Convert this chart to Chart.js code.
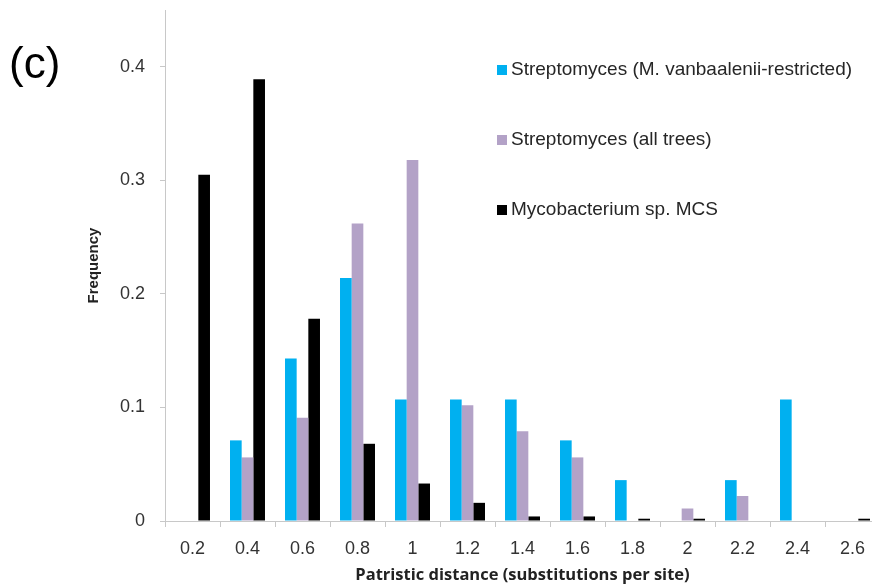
<!DOCTYPE html>
<html>
<head>
<meta charset="utf-8">
<script src="https://cdn.jsdelivr.net/npm/chart.js@4/dist/chart.umd.min.js"></script>
<style>
  html, body { margin: 0; padding: 0; background: #fff; overflow: hidden; }
  #wrap { position: relative; width: 900px; height: 585px; }
</style>
</head>
<body>
<div id="wrap"><canvas id="c" width="900" height="585"></canvas></div>
<script>
// Patristic distance bins (substitutions per site)
const distanceBins = ['0.2', '0.4', '0.6', '0.8', '1', '1.2', '1.4', '1.6', '1.8', '2', '2.2', '2.4', '2.6'];

// Frequency per bin for each group
const streptoRestricted = [0, 0.071, 0.143, 0.214, 0.107, 0.107, 0.107, 0.071, 0.036, 0, 0.036, 0.107, 0];
const streptoAllTrees   = [0, 0.056, 0.091, 0.262, 0.318, 0.102, 0.079, 0.056, 0, 0.011, 0.022, 0, 0];
const mycoMCS           = [0.305, 0.389, 0.178, 0.068, 0.033, 0.016, 0.004, 0.004, 0.002, 0.002, 0, 0, 0.002];

const seriesNames = [
  'Streptomyces (M. vanbaalenii-restricted)',
  'Streptomyces (all trees)',
  'Mycobacterium sp. MCS'
];
const seriesColors = ['#00B0F0', '#B3A2C7', '#000000'];

const yTicks = [0, 0.1, 0.2, 0.3, 0.4];

const panelLabel = '(c)';

// Legend stacked down the upper right of the plot, with wide row spacing
const sideLegend = {
  id: 'sideLegend',
  afterDraw(chart) {
    const ctx = chart.ctx;
    ctx.save();
    ctx.font = '19px "Liberation Sans", Arial, sans-serif';
    ctx.textBaseline = 'middle';
    ctx.textAlign = 'left';
    chart.data.datasets.forEach((ds, i) => {
      const y = 70 + i * 70;
      ctx.fillStyle = ds.backgroundColor;
      ctx.fillRect(497, y - 5, 10, 10);
      ctx.fillStyle = '#262626';
      ctx.fillText(ds.label, 511, y);
    });
    // panel letter
    ctx.font = '44px "Liberation Sans", Arial, sans-serif';
    ctx.textBaseline = 'alphabetic';
    ctx.fillStyle = '#000';
    ctx.fillText(panelLabel, 9, 78);
    ctx.restore();
  }
};

new Chart(document.getElementById('c'), {
  type: 'bar',
  data: {
    labels: distanceBins,
    datasets: [
      { label: seriesNames[0], data: streptoRestricted, backgroundColor: seriesColors[0] },
      { label: seriesNames[1], data: streptoAllTrees, backgroundColor: seriesColors[1] },
      { label: seriesNames[2], data: mycoMCS, backgroundColor: seriesColors[2] }
    ]
  },
  options: {
    responsive: false,
    animation: false,
    devicePixelRatio: 1,
    layout: { padding: { top: 10, right: 20, left: 0, bottom: 0 } },
    datasets: { bar: { categoryPercentage: 0.636, barPercentage: 1.0, borderWidth: 0 } },
    plugins: {
      legend: { display: false },
      tooltip: { enabled: false }
    },
    scales: {
      x: {
        offset: true,
        grid: { offset: true, drawOnChartArea: false, drawTicks: true, tickLength: 6, color: '#c8c8c8' },
        border: { display: true, color: '#c8c8c8', width: 1 },
        ticks: {
          color: '#333',
          padding: 11,
          font: { family: '"Liberation Sans", Arial, sans-serif', size: 18 },
          maxRotation: 0, autoSkip: false
        },
        title: {
          display: true,
          text: 'Patristic distance (substitutions per site)',
          color: '#222',
          font: { family: '"Open Sans", sans-serif', size: 16.5, weight: 'bold' },
          padding: { top: 0, bottom: 0 }
        },
        afterFit(scale) {
          scale.height = 64;
          scale.paddingLeft = 0;
          scale.paddingRight = 0;
        }
      },
      y: {
        min: 0,
        max: 0.45,
        afterBuildTicks(scale) { scale.ticks = yTicks.map(v => ({ value: v })); },
        grid: { drawOnChartArea: false, drawTicks: true, tickLength: 5, color: '#c8c8c8' },
        border: { display: true, color: '#c8c8c8', width: 1 },
        ticks: {
          color: '#333',
          padding: 15,
          font: { family: '"Liberation Sans", Arial, sans-serif', size: 18 },
          callback: v => String(Math.round(v * 10) / 10)
        },
        title: {
          display: true,
          text: 'Frequency',
          color: '#222',
          font: { family: '"Liberation Sans", Arial, sans-serif', size: 15, weight: 'bold' },
          padding: { top: 85, bottom: 0 }
        },
        afterFit(scale) {
          scale.width = 165;
          scale.paddingTop = 0;
          scale.paddingBottom = 0;
        }
      }
    }
  },
  plugins: [sideLegend]
});
</script>
</body>
</html>
